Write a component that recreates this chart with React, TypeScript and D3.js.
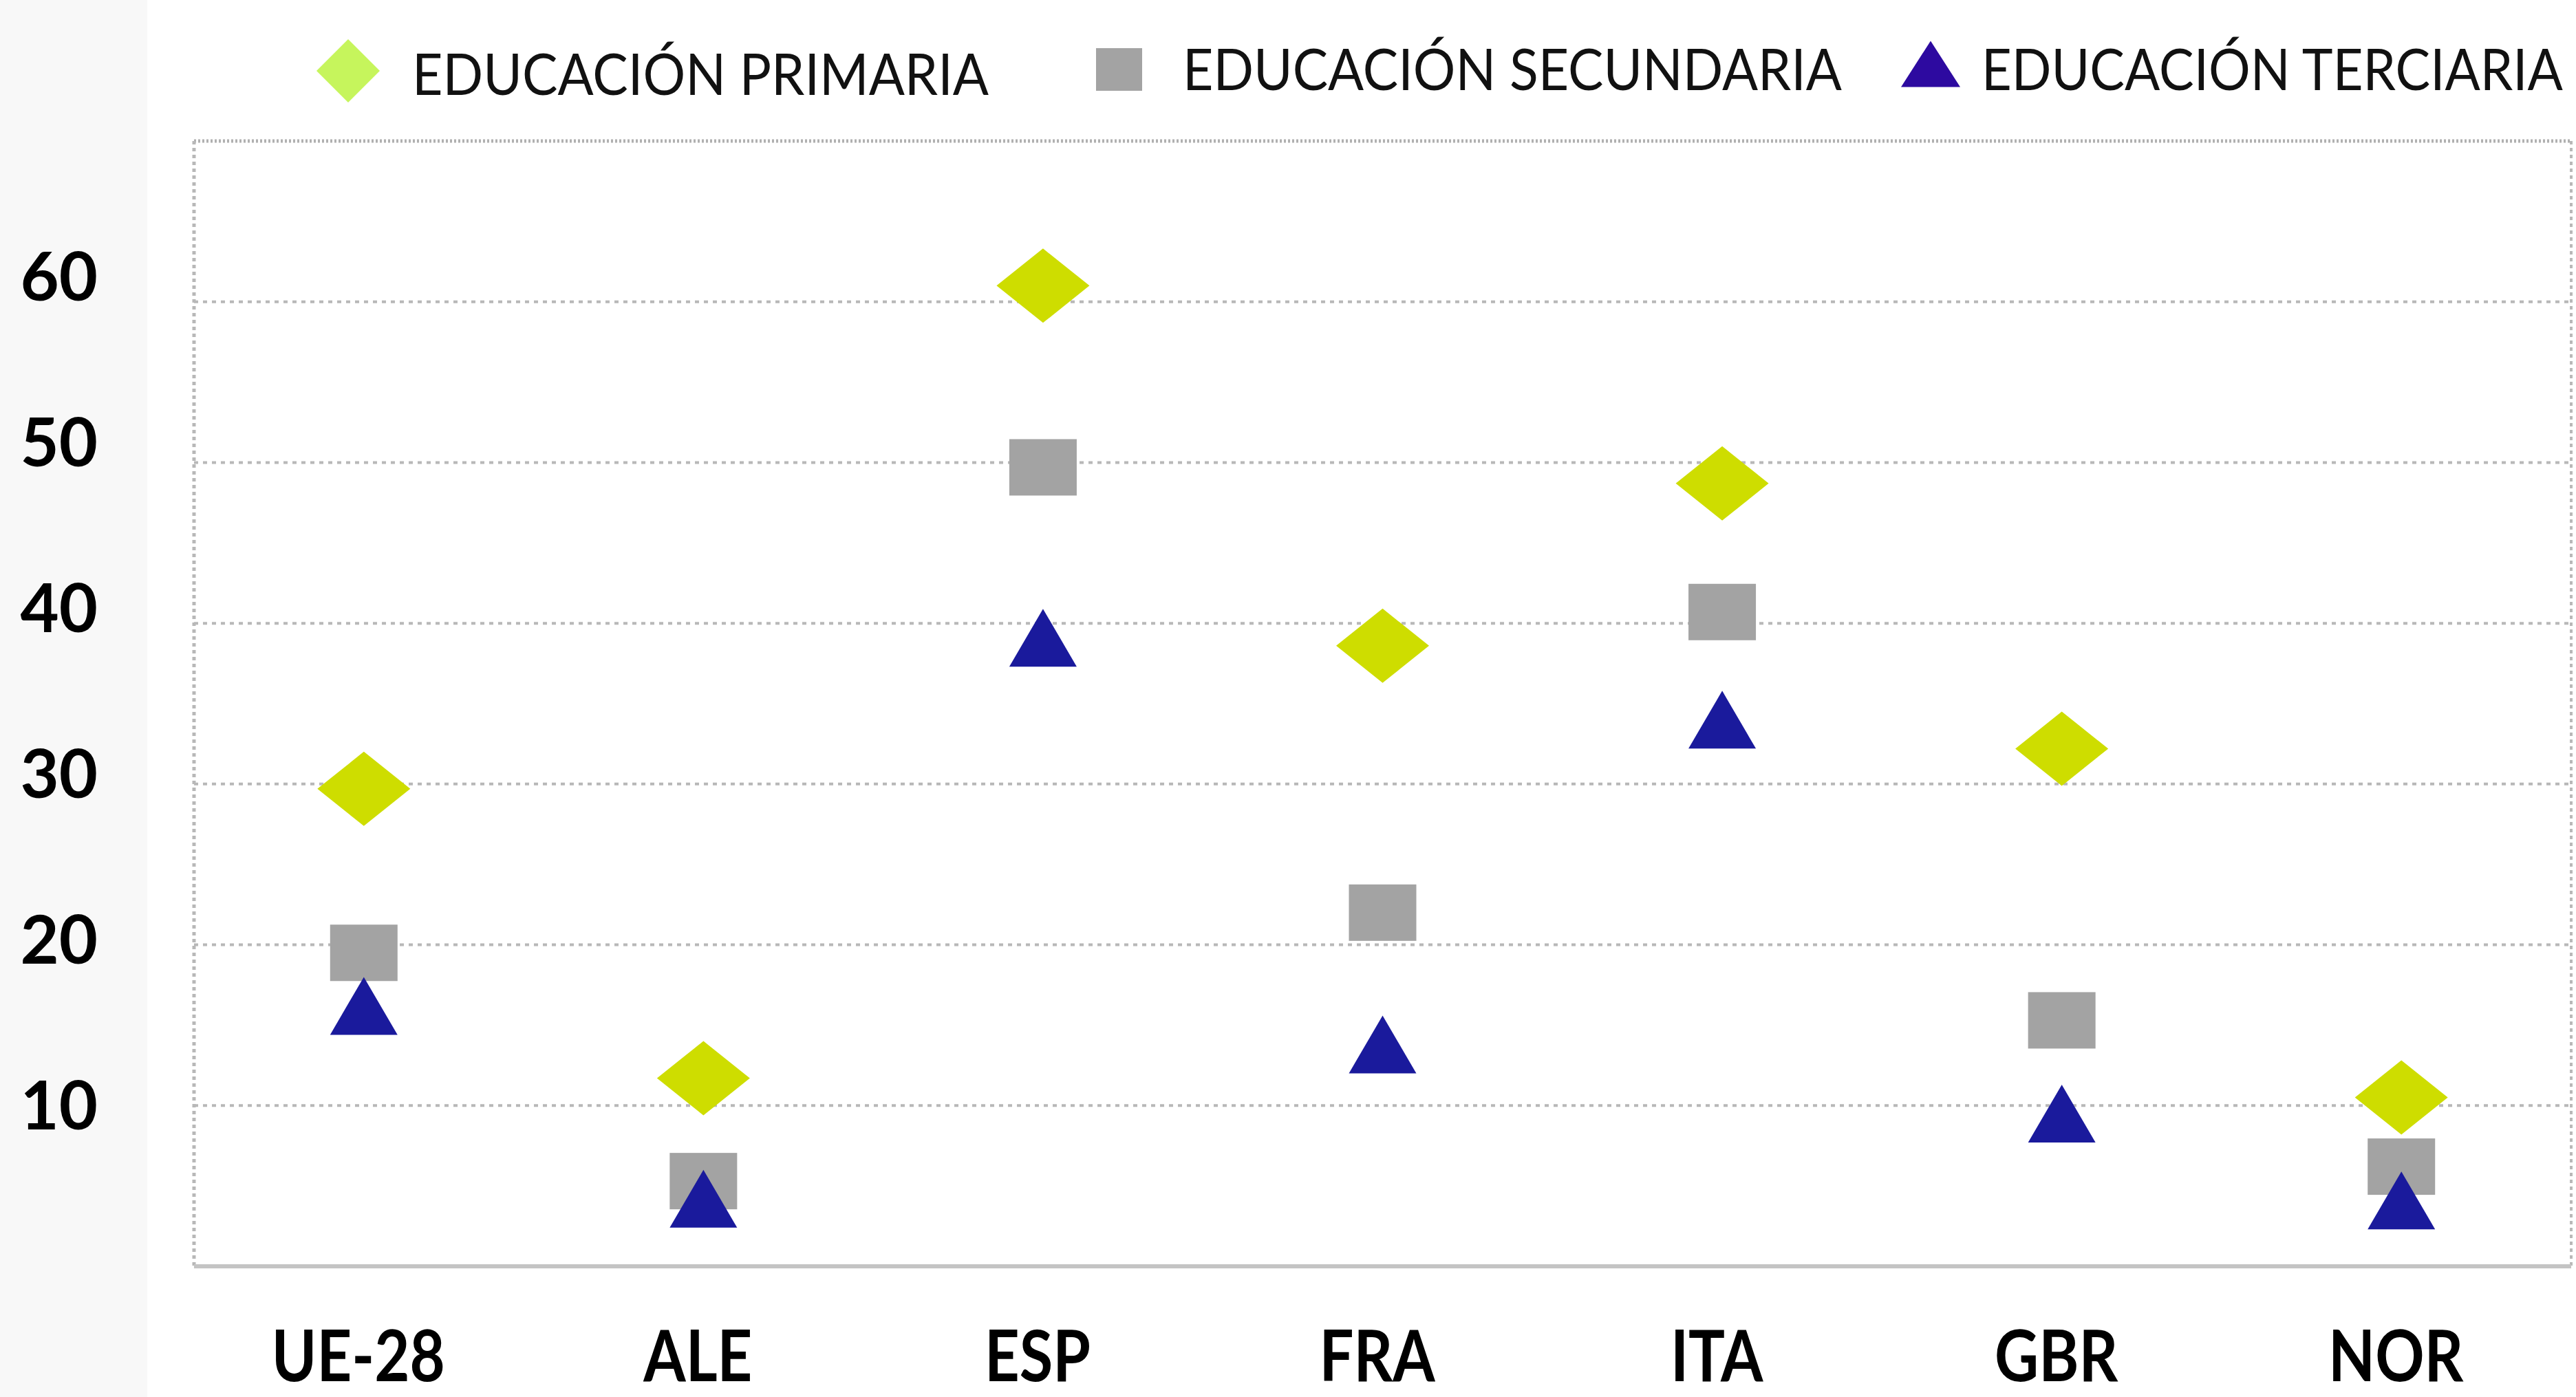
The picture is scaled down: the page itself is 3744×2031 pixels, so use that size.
import React from "react";
import * as d3 from "d3";

const countries = ["UE-28", "ALE", "ESP", "FRA", "ITA", "GBR", "NOR"];
const primaria = [29.7, 11.7, 61.0, 38.6, 48.7, 32.2, 10.5];
const secundaria = [19.5, 5.3, 49.7, 22.0, 40.7, 15.3, 6.2];
const terciaria = [16.2, 4.2, 39.1, 13.8, 34.0, 9.5, 4.1];
const yTicks = [10, 20, 30, 40, 50, 60];
const legendLabels = ["EDUCACIÓN PRIMARIA", "EDUCACIÓN SECUNDARIA", "EDUCACIÓN TERCIARIA"];

const W = 3744;
const H = 2031;
const M = { left: 282, right: 3737, top: 205, bottom: 1841 };

export default function App() {
  const x = d3.scalePoint<string>().domain(countries).range([M.left, M.right]).padding(0.5);
  const y = d3.scaleLinear().domain([0, 70]).range([M.bottom, M.top]);
  const labelY = d3.scaleLinear().domain([10, 60]).range([1607, 402]);

  const diamond = (w: number, h: number) => `M0,${-h / 2}L${w / 2},0L0,${h / 2}L${-w / 2},0Z`;
  const tri = (w: number, h: number) => `M0,${-h / 2}L${w / 2},${h / 2}L${-w / 2},${h / 2}Z`;

  const font = "Lato, 'Open Sans', sans-serif";

  return (
    <svg width={W} height={H} style={{ position: "absolute", left: 0, top: 0, background: "#fff" }}>
      <rect x={0} y={0} width={214} height={H} fill="#f8f8f8" />
      {yTicks.map((t) => (
        <line key={t} x1={M.left} x2={M.right} y1={y(t)} y2={y(t)} stroke="#b8b8b8" strokeWidth={4} strokeDasharray="6 7" />
      ))}
      <line x1={M.left} x2={M.right} y1={M.top} y2={M.top} stroke="#b0b0b0" strokeWidth={5} strokeDasharray="3 3" />
      <line x1={M.left} x2={M.left} y1={M.top} y2={M.bottom} stroke="#b8b8b8" strokeWidth={5} strokeDasharray="5 5" />
      <line x1={M.right} x2={M.right} y1={M.top} y2={M.bottom} stroke="#b8b8b8" strokeWidth={4} strokeDasharray="5 5" />
      <line x1={M.left} x2={M.right} y1={M.bottom} y2={M.bottom} stroke="#c4c4c4" strokeWidth={6} />
      {yTicks.map((t) => (
        <text key={t} x={142} y={labelY(t)} dy="0.36em" textAnchor="end" fontFamily={font} fontWeight={700} fontSize={97} fill="#000">
          {t}
        </text>
      ))}
      {countries.map((c) => (
        <text key={c} transform={`translate(${(x(c) as number) - 8},2008) scale(0.85,1)`} textAnchor="middle" fontFamily={font} fontWeight={700} fontSize={104} fill="#000">
          {c}
        </text>
      ))}
      {countries.map((c, i) => (
        <g key={c}>
          <path d={diamond(135, 108)} transform={`translate(${x(c)},${y(primaria[i])})`} fill="#cedd00" />
          <rect x={(x(c) as number) - 49} y={y(secundaria[i]) - 41} width={98} height={82} fill="#a3a3a3" />
          <path d={tri(98, 84)} transform={`translate(${x(c)},${y(terciaria[i])})`} fill="#1a1a9c" />
        </g>
      ))}
      <path d={diamond(92, 92)} transform="translate(506,103)" fill="#c6f55c" />
      <text x={599} y={138} fontFamily={font} fontSize={83} fill="#111" textLength={838} lengthAdjust="spacingAndGlyphs">
        {legendLabels[0]}
      </text>
      <rect x={1593} y={70} width={67} height={62} fill="#a3a3a3" />
      <text x={1719} y={131} fontFamily={font} fontSize={83} fill="#111" textLength={958} lengthAdjust="spacingAndGlyphs">
        {legendLabels[1]}
      </text>
      <path d={tri(86, 67)} transform="translate(2806,93)" fill="#2d0aa0" />
      <text x={2880} y={131} fontFamily={font} fontSize={83} fill="#111" textLength={845} lengthAdjust="spacingAndGlyphs">
        {legendLabels[2]}
      </text>
    </svg>
  );
}
